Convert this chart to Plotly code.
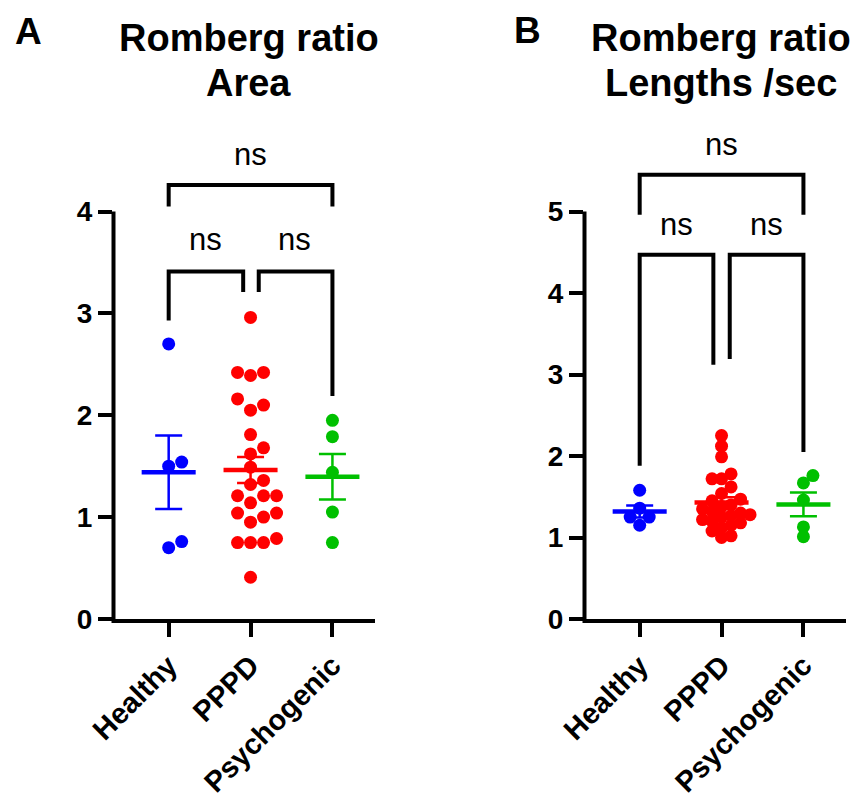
import numpy as np
import plotly.graph_objects as go

# ---------------- data ----------------
groups = ["Healthy", "PPPD", "Psychogenic"]
group_colors = ["#0000FF", "#FF0000", "#00C000"]

area_healthy = [2.70, 1.54, 1.50, 0.76, 0.70]
area_pppd = [2.96, 2.42, 2.42, 2.39, 2.16, 2.10, 2.05, 1.81, 1.68, 1.62, 1.49,
             1.36, 1.32, 1.21, 1.21, 1.21, 1.14, 1.04, 1.04, 1.00, 0.95, 0.79,
             0.75, 0.75, 0.75, 0.41]
area_psychogenic = [1.95, 1.79, 1.44, 1.05, 0.75]

length_healthy = [1.58, 1.36, 1.25, 1.25, 1.15]
length_pppd = [2.25, 2.12, 1.99, 1.78, 1.72, 1.72, 1.62, 1.54, 1.47, 1.45, 1.40,
               1.38, 1.35, 1.32, 1.30, 1.28, 1.27, 1.25, 1.22, 1.20, 1.18, 1.15,
               1.12, 1.08, 1.02, 1.00]
length_psychogenic = [1.76, 1.67, 1.46, 1.13, 1.01]

area_ticks = [0, 1, 2, 3, 4]
length_ticks = [0, 1, 2, 3, 4, 5]

# significance brackets: (x_left, x_right, y_bar, y_left_end, y_right_end)
area_brackets = [(0, 2, 4.26, 4.05, 4.05), (0, 0.91, 3.41, 2.93, 3.21), (1.10, 2, 3.41, 3.21, 2.19)]
area_labels = [(1.0, 4.56, "ns"), (0.45, 3.73, "ns"), (1.54, 3.73, "ns")]
length_brackets = [(0, 2, 5.45, 4.96, 4.96), (0, 0.90, 4.47, 1.88, 3.12), (1.10, 2, 4.47, 3.19, 2.05)]
length_labels = [(1.0, 5.82, "ns"), (0.45, 4.84, "ns"), (1.55, 4.84, "ns")]

# ---------------- layout constants ----------------
PAGE_W, PAGE_H = 862, 801
BODY_MARGIN = 8                      # default page margin around the plot div
W, H = PAGE_W - BODY_MARGIN, PAGE_H - BODY_MARGIN


def pxx(px):   # page pixel -> paper x
    return (px - BODY_MARGIN) / W


def pxy(py):   # page pixel -> paper y
    return 1 - (py - BODY_MARGIN) / H


FONT = "Arial, Liberation Sans, Helvetica, sans-serif"
PLOT_TOP_PX, PLOT_BOTTOM_PX = 130, 619
XRANGE = [-0.68, 2.52]
panels = [
    dict(xid="x", yid="y", xdom_px=(113, 375), ytop=4.8, ytickmax=4, overlap=13.0,
         data=[area_healthy, area_pppd, area_psychogenic], ticks=area_ticks,
         brackets=area_brackets, labels=area_labels),
    dict(xid="x2", yid="y2", xdom_px=(584, 846), ytop=6.0, ytickmax=5, overlap=9.5,
         data=[length_healthy, length_pppd, length_psychogenic], ticks=length_ticks,
         brackets=length_brackets, labels=length_labels),
]
ydom = [pxy(PLOT_BOTTOM_PX), pxy(PLOT_TOP_PX)]


def swarm(vals, ypx, xpx, d=13.0, step=7.0):
    placed = []
    offs = [0.0] * len(vals)
    cands = [0.0]
    for k in range(1, 12):
        cands += [k * step, -k * step]
    for i in sorted(range(len(vals)), key=lambda j: vals[j]):
        y = vals[i] * ypx
        for c in cands:
            if all((c - px) ** 2 + (y - py) ** 2 >= d * d - 1e-6 for px, py in placed):
                break
        placed.append((c, y))
        offs[i] = c / xpx
    return offs


fig = go.Figure()
shapes = []
annotations = []

for p in panels:
    x0p, x1p = p["xdom_px"]
    xpx = (x1p - x0p) / (XRANGE[1] - XRANGE[0])
    ypx = (PLOT_BOTTOM_PX - PLOT_TOP_PX) / p["ytop"]
    for g, (vals, col) in enumerate(zip(p["data"], group_colors)):
        offs = swarm(vals, ypx, xpx, d=p["overlap"], step=p["overlap"] / 2)
        fig.add_trace(go.Scatter(
            x=[g + o for o in offs], y=vals, mode="markers", xaxis=p["xid"], yaxis=p["yid"],
            marker=dict(size=13, color=col, line=dict(width=0)), cliponaxis=False,
            showlegend=False, hoverinfo="skip"))
        m = float(np.mean(vals))
        sem = float(np.std(vals, ddof=1) / np.sqrt(len(vals)))
        fig.add_trace(go.Scatter(
            x=[g], y=[m], mode="markers", xaxis=p["xid"], yaxis=p["yid"],
            marker=dict(size=1, color="rgba(0,0,0,0)"),
            error_y=dict(type="data", array=[sem], visible=True, color=col,
                         thickness=2.5, width=13.5),
            showlegend=False, hoverinfo="skip"))
        fig.add_trace(go.Scatter(
            x=[g - 0.33, g + 0.33], y=[m, m], mode="lines", xaxis=p["xid"], yaxis=p["yid"],
            line=dict(color=col, width=4.5), showlegend=False, hoverinfo="skip"))

    def ypaper(v, ytop=p["ytop"]):
        return ydom[0] + v / ytop * (ydom[1] - ydom[0])
    shapes.append(dict(type="line", xref="paper", yref="paper",
                       x0=pxx(x0p + 0.5), x1=pxx(x0p + 0.5),
                       y0=ypaper(0) - 4.0 / H, y1=ypaper(p["ytickmax"]),
                       line=dict(color="black", width=4)))
    for (xl, xr, yb, yle, yre) in p["brackets"]:
        shapes.append(dict(type="path", xref=p["xid"], yref=p["yid"],
                           path=f"M {xl},{yle} L {xl},{yb} L {xr},{yb} L {xr},{yre}",
                           line=dict(color="black", width=4)))
    for (xt, yt, txt) in p["labels"]:
        annotations.append(dict(x=xt, y=yt, xref=p["xid"], yref=p["yid"], text=txt,
                                showarrow=False, font=dict(family=FONT, size=31, color="black"),
                                xanchor="center", yanchor="middle"))

axis_common = dict(showgrid=False, zeroline=False, ticks="outside", ticklen=14, tickwidth=4,
                   tickcolor="black", automargin=False)
xfont = dict(family=FONT, size=29, color="black", weight="bold")
yfont = dict(family=FONT, size=28, color="black", weight="bold")

fig.update_layout(
    width=W, height=H, margin=dict(l=0, r=0, t=0, b=0, autoexpand=False),
    paper_bgcolor="white", plot_bgcolor="white", showlegend=False,
    xaxis=dict(domain=[pxx(panels[0]["xdom_px"][0]), pxx(panels[0]["xdom_px"][1])], range=XRANGE,
               anchor="y", tickvals=[0, 1, 2], ticktext=groups, tickangle=-45, tickfont=xfont,
               showline=True, linewidth=4, linecolor="black", **axis_common),
    yaxis=dict(domain=ydom, range=[0, panels[0]["ytop"]], anchor="x", tickfont=yfont,
               tickvals=area_ticks, showline=False, **axis_common),
    xaxis2=dict(domain=[pxx(panels[1]["xdom_px"][0]), pxx(panels[1]["xdom_px"][1])], range=XRANGE,
                anchor="y2", tickvals=[0, 1, 2], ticktext=groups, tickangle=-45, tickfont=xfont,
                showline=True, linewidth=4, linecolor="black", **axis_common),
    yaxis2=dict(domain=ydom, range=[0, panels[1]["ytop"]], anchor="x2", tickfont=yfont,
                tickvals=length_ticks, showline=False, **axis_common),
    shapes=shapes,
)

title_font = dict(family=FONT, size=38, color="black", weight="bold")
titles = [(249, ["Romberg ratio", "Area"]), (721, ["Romberg ratio", "Lengths /sec"])]
title_line_y = [38, 83]
for cx, lines in titles:
    for ly, txt in zip(title_line_y, lines):
        annotations.append(dict(x=pxx(cx), y=pxy(ly), xref="paper", yref="paper", text=txt,
                                showarrow=False, font=title_font, xanchor="center",
                                yanchor="middle"))
panel_font = dict(family=FONT, size=37, color="black", weight="bold")
annotations += [
    dict(x=pxx(28), y=pxy(31), xref="paper", yref="paper", text="A", showarrow=False,
         font=panel_font, xanchor="center", yanchor="middle"),
    dict(x=pxx(527), y=1, xref="paper", yref="paper", text="B", showarrow=False,
         font=panel_font, xanchor="center", yanchor="top"),
]
fig.update_layout(annotations=annotations)

fig.write_html("out.html")
